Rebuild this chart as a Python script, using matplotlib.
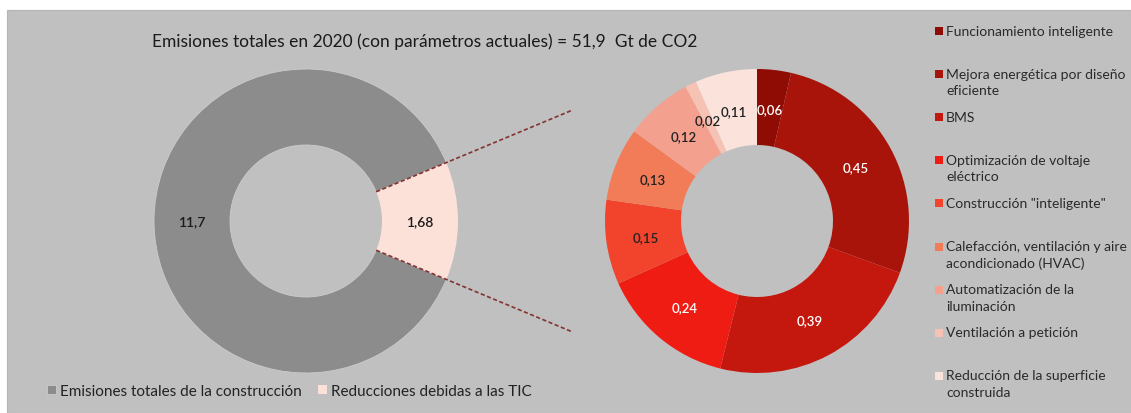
import matplotlib
matplotlib.use("Agg")
import matplotlib.pyplot as plt
from matplotlib.patches import Rectangle
import numpy as np

plt.rcParams['font.family'] = ['Lato', 'DejaVu Sans']

# data
total_labels = ['Emisiones totales de la construcción', 'Reducciones debidas a las TIC']
total_values = [11.7, 1.68]
total_colors = ['#8c8c8c', '#fce1d8']

tic_labels = ['Funcionamiento inteligente',
              'Mejora energética por diseño\neficiente',
              'BMS',
              'Optimización de voltaje\neléctrico',
              'Construcción "inteligente"',
              'Calefacción, ventilación y aire\nacondicionado (HVAC)',
              'Automatización de la\niluminación',
              'Ventilación a petición',
              'Reducción de la superficie\nconstruida']
tic_values = [0.06, 0.45, 0.39, 0.24, 0.15, 0.13, 0.12, 0.02, 0.11]
tic_colors = ['#8e0c04', '#a8140a', '#c4180f', '#ee1c12', '#f2432c',
              '#f27c58', '#f4a08e', '#f6c2b4', '#fbe3dc']
tic_text_colors = ['white', 'white', 'white', 'white', '#222222',
                   '#222222', '#222222', '#222222', '#222222']

title = 'Emisiones totales en 2020 (con parámetros actuales) = 51,9  Gt de CO2'

W, H = 1131, 414
fig = plt.figure(figsize=(W / 100, H / 100), dpi=100)
fig.patch.set_facecolor('white')

# grey chart area
fig.patches.append(Rectangle((7 / W, 0), 1 - 7 / W, 1 - 11 / H,
                             transform=fig.transFigure, facecolor='#c0c0c0',
                             edgecolor='#b4b4b4', lw=0.8, zorder=-10))

R = 152  # outer radius in px
half = 160


def donut_axes(cx, cy):
    ax = fig.add_axes([(cx - half) / W, (H - cy - half) / H, 2 * half / W, 2 * half / H])
    ax.set_zorder(2)
    return ax


def fix_limits(ax):
    # pie() resets the limits, so put them back so radius 1 == R px
    ax.set_xlim(-half / R, half / R)
    ax.set_ylim(-half / R, half / R)
    ax.set_aspect('equal')
    ax.axis('off')


# left donut
ax1 = donut_axes(306, 222)
share = total_values[1] / sum(total_values) * 360
start = share / 2
wedges1, texts1 = ax1.pie(total_values, colors=total_colors, startangle=start,
                          radius=1, labels=[f'{v:g}'.replace('.', ',') for v in total_values],
                          labeldistance=0.75,
                          wedgeprops=dict(width=0.5, edgecolor='#cccccc', linewidth=0.6),
                          textprops=dict(fontsize=10, color='#1a1a1a', ha='center',
                                         va='center', fontweight='semibold'))
wedges1[1].set_edgecolor('none')
fix_limits(ax1)

# dashed lines linking the TIC slice to the detail donut
for ang in (start, -start):
    t = np.deg2rad(ang)
    r = np.array([0.5, 1.89])
    ax1.plot(r * np.cos(t), r * np.sin(t), ls=(0, (2.5, 1.5)), color='#843232',
             lw=1.2, clip_on=False, zorder=5)

# right donut
ax2 = donut_axes(757, 222)
wedges2, texts2 = ax2.pie(tic_values, colors=tic_colors, startangle=90, counterclock=False,
                          radius=1, labels=[f'{v:.2f}'.replace('.', ',') for v in tic_values],
                          labeldistance=0.74,
                          wedgeprops=dict(width=0.5, linewidth=0),
                          textprops=dict(fontsize=9.5, ha='center', va='center',
                                         fontweight='semibold'))
for t, c in zip(texts2, tic_text_colors):
    t.set_color(c)
fix_limits(ax2)

fig.text(152 / W, 1 - 42 / H, title, fontsize=12.5, color='#1a1a1a', va='center', ha='left')

# legend on the right (Excel-style fixed slots, marker on first line)
slot = 43.1
for i, (lab, col) in enumerate(zip(tic_labels, tic_colors)):
    y = 32 + i * slot
    fig.patches.append(Rectangle((935 / W, 1 - (y + 4) / H), 8 / W, 8 / H,
                                 transform=fig.transFigure, facecolor=col,
                                 edgecolor='none'))
    fig.text(946 / W, 1 - (y - 6.5) / H, lab, fontsize=10, color='#2a2a2a',
             va='top', ha='left', linespacing=1.45)

# bottom legend
fig.legend(wedges1, total_labels, loc='center left', bbox_to_anchor=(33 / W, 1 - 392 / H),
           ncol=2, frameon=False, fontsize=11, handlelength=0.6, handleheight=0.6,
           handletextpad=0.3, columnspacing=1.0, labelcolor='#222222')

fig.savefig('out.png', dpi=100, facecolor=fig.get_facecolor())
